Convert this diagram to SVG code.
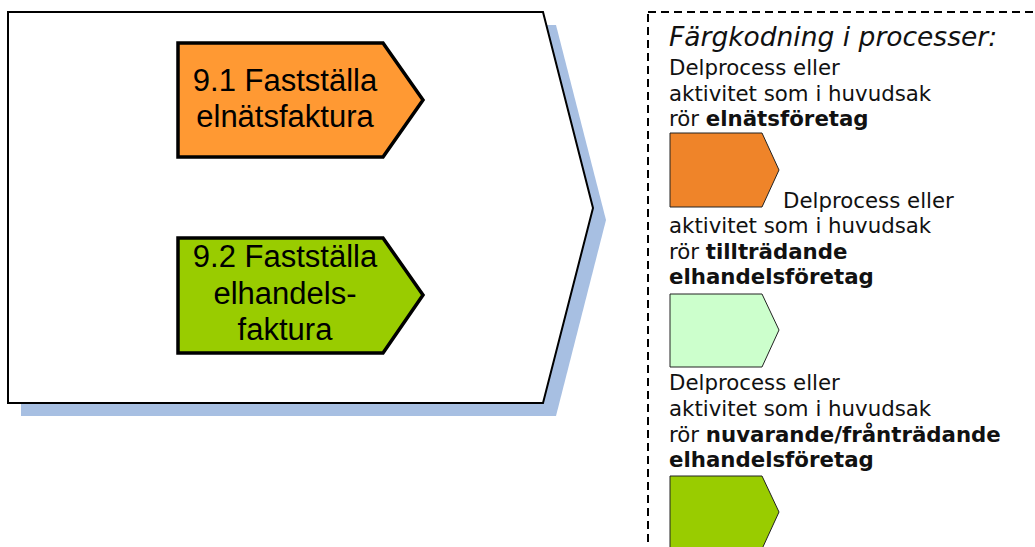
<svg xmlns="http://www.w3.org/2000/svg" width="1035" height="547" viewBox="0 0 1035 547">
  <style>
    .proc { stroke: #000; stroke-width: 3.5; stroke-linejoin: miter; }
    .ptxt { font-family: "Liberation Sans", Arial, sans-serif; font-size: 31px; fill: #000; text-anchor: middle; }
    .leg { stroke: #222; stroke-width: 1; }
    .ltxt { font-family: "DejaVu Sans", Verdana, sans-serif; font-size: 21.3px; fill: #111; }
    .ttl { font-family: "DejaVu Sans", Verdana, sans-serif; font-size: 26.5px; font-style: italic; fill: #111; }
    .b { font-weight: bold; }
  </style>
  <rect width="1035" height="547" fill="#fff"/>
  <g id="process-9">
    <polygon points="21,25 556,25 606,220 556,416 21,416" fill="#a7bfe2"/>
    <polygon points="8,12 543,12 593,208 543,403 8,403" fill="#fff" stroke="#000" stroke-width="2"/>
  </g>
  <g id="node-9-1">
    <polygon class="proc" points="178,43 383,43 423,100 383,157 178,157" fill="#ff9933"/>
    <text class="ptxt" x="285" y="91">9.1 Fastställa</text>
    <text class="ptxt" x="285" y="127">elnätsfaktura</text>
  </g>
  <g id="node-9-2">
    <polygon class="proc" points="178,238 383,238 423,295 383,353 178,353" fill="#99cc00"/>
    <text class="ptxt" x="285" y="267">9.2 Fastställa</text>
    <text class="ptxt" x="285" y="304">elhandels-</text>
    <text class="ptxt" x="285" y="340">faktura</text>
  </g>
  <g id="legend">
    <rect x="648" y="12" width="420" height="560" fill="none" stroke="#000" stroke-width="2" stroke-dasharray="8 5"/>
    <text class="ttl" x="669" y="46">Färgkodning i processer:</text>
    <text class="ltxt" x="669" y="75">Delprocess eller</text>
    <text class="ltxt" x="669" y="100.5">aktivitet som i huvudsak</text>
    <text class="ltxt" x="669" y="126">rör <tspan class="b">elnätsföretag</tspan></text>
    <polygon class="leg" points="670,133 762,133 779,170 762,207 670,207" fill="#ef8429"/>
    <text class="ltxt" x="783" y="208">Delprocess eller</text>
    <text class="ltxt" x="669" y="233">aktivitet som i huvudsak</text>
    <text class="ltxt" x="669" y="258.5">rör <tspan class="b">tillträdande</tspan></text>
    <text class="ltxt b" x="669" y="284">elhandelsföretag</text>
    <polygon class="leg" points="670,294 762,294 779,330 762,367 670,367" fill="#ccffcc"/>
    <text class="ltxt" x="669" y="390">Delprocess eller</text>
    <text class="ltxt" x="669" y="416">aktivitet som i huvudsak</text>
    <text class="ltxt" x="669" y="442">rör <tspan class="b">nuvarande/frånträdande</tspan></text>
    <text class="ltxt b" x="669" y="467">elhandelsföretag</text>
    <polygon class="leg" points="670,476 762,476 779,512 762,549 670,549" fill="#99cc00"/>
  </g>
</svg>
